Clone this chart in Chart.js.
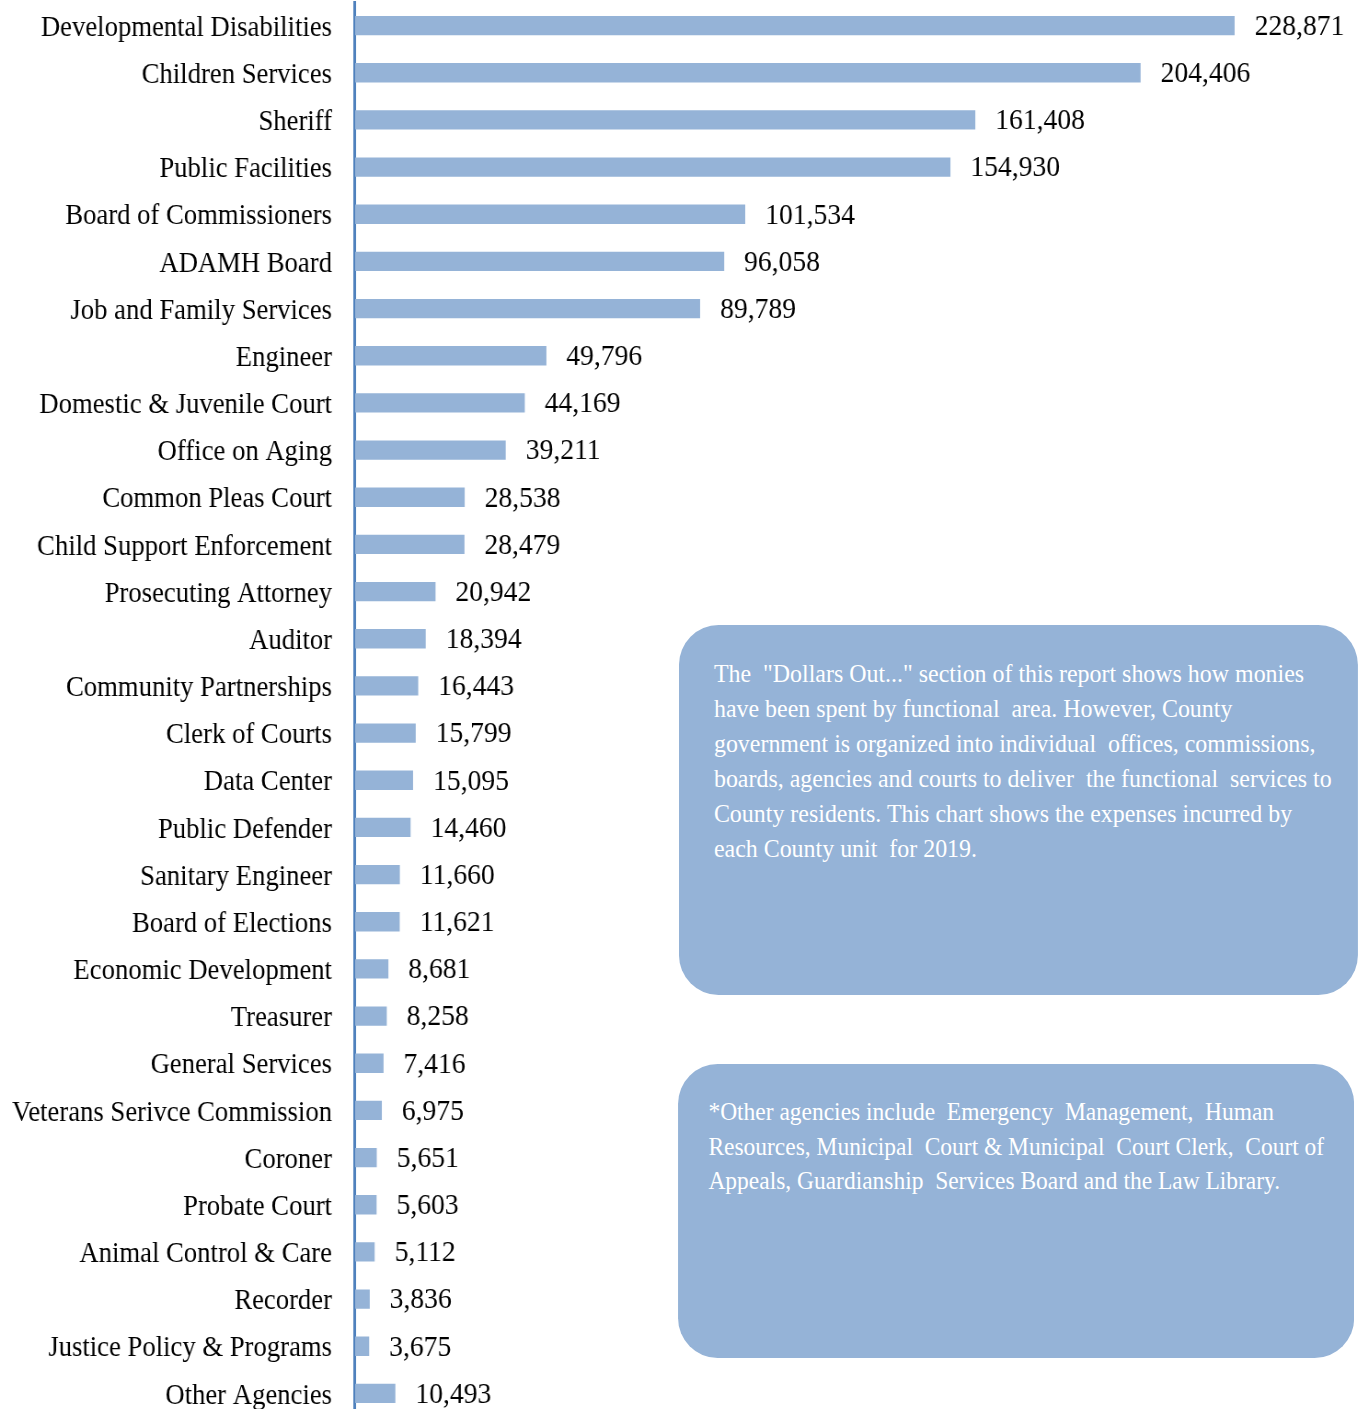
<!DOCTYPE html>
<html>
<head>
<meta charset="utf-8">
<script src="https://cdn.jsdelivr.net/npm/chart.js@4/dist/chart.umd.min.js"></script>
<style>
  html, body { margin: 0; padding: 0; background: #fff; overflow: hidden; width: 1359px; height: 1409px; }
  #wrap { position: absolute; left: 0; top: 0; width: 1477px; height: 1418px; transform: scaleX(0.92); transform-origin: 0 0; }
  #c { position: absolute; left: 0; top: 0; }
  .box { position: absolute; background: #95B3D7; color: #fff; font-family: "Liberation Serif", "Times New Roman", serif; white-space: pre; border-radius: 43px / 40px; box-sizing: border-box; }
  #box1 { left: 738px; top: 625px; width: 738px; height: 370px; padding: 31px 0 0 38px; line-height: 35px; font-size: 26px; }
  #box2 { left: 737px; top: 1064px; width: 735px; height: 294px; padding: 31px 0 0 33px; line-height: 34.5px; font-size: 25.5px; }
</style>
</head>
<body>
<div id="wrap">
  <canvas id="c" width="1477" height="1418"></canvas>
  <div class="box" id="box1">The  "Dollars Out..." section of this report shows how monies
have been spent by functional  area. However, County
government is organized into individual  offices, commissions,
boards, agencies and courts to deliver  the functional  services to
County residents. This chart shows the expenses incurred by
each County unit  for 2019.</div>
  <div class="box" id="box2">*Other agencies include  Emergency  Management,  Human
Resources, Municipal  Court &amp; Municipal  Court Clerk,  Court of
Appeals, Guardianship  Services Board and the Law Library.</div>
</div>
<script>
const categories = [
  "Developmental Disabilities", "Children Services", "Sheriff", "Public Facilities",
  "Board of Commissioners", "ADAMH Board", "Job and Family Services", "Engineer",
  "Domestic & Juvenile Court", "Office on Aging", "Common Pleas Court", "Child Support Enforcement",
  "Prosecuting Attorney", "Auditor", "Community Partnerships", "Clerk of Courts",
  "Data Center", "Public Defender", "Sanitary Engineer", "Board of Elections",
  "Economic Development", "Treasurer", "General Services", "Veterans Serivce Commission",
  "Coroner", "Probate Court", "Animal Control & Care", "Recorder",
  "Justice Policy & Programs", "Other Agencies"
];
const expenses = [
  228871, 204406, 161408, 154930,
  101534, 96058, 89789, 49796,
  44169, 39211, 28538, 28479,
  20942, 18394, 16443, 15799,
  15095, 14460, 11660, 11621,
  8681, 8258, 7416, 6975,
  5651, 5603, 5112, 3836,
  3675, 10493
];
const axisMin = 0;
const axisMax = 250000;

const FONT = '"Liberation Serif", "Times New Roman", serif';

const valueLabels = {
  id: 'valueLabels',
  afterDatasetsDraw(chart) {
    const ctx = chart.ctx;
    const meta = chart.getDatasetMeta(0);
    ctx.save();
    ctx.font = '30px ' + FONT;
    ctx.fillStyle = '#000';
    ctx.textAlign = 'left';
    ctx.textBaseline = 'middle';
    meta.data.forEach((bar, i) => {
      ctx.fillText(expenses[i].toLocaleString('en-US'), bar.x + 21.7, bar.y + 1.5);
    });
    ctx.restore();
  }
};

new Chart(document.getElementById('c'), {
  type: 'bar',
  data: {
    labels: categories,
    datasets: [{
      data: expenses,
      backgroundColor: '#95B3D7',
      borderWidth: 0,
      barPercentage: 0.41,
      categoryPercentage: 1.0
    }]
  },
  options: {
    indexAxis: 'y',
    responsive: false,
    animation: false,
    devicePixelRatio: 1,
    layout: { padding: { top: 2, bottom: 1, left: 0, right: 46.8 } },
    plugins: { legend: { display: false }, tooltip: { enabled: false } },
    scales: {
      x: { display: false, min: axisMin, max: axisMax },
      y: {
        grid: { display: false, drawTicks: false },
        border: { display: true, color: '#4F81BD', width: 3 },
        ticks: { font: { family: FONT, size: 29 }, color: '#000', padding: 25, autoSkip: false, labelOffset: 2.5 },
        afterFit(scale) {
          scale.width = 385.9;
          scale.paddingTop = 0;
          scale.paddingBottom = 0;
        }
      }
    }
  },
  plugins: [valueLabels]
});
</script>
</body>
</html>
